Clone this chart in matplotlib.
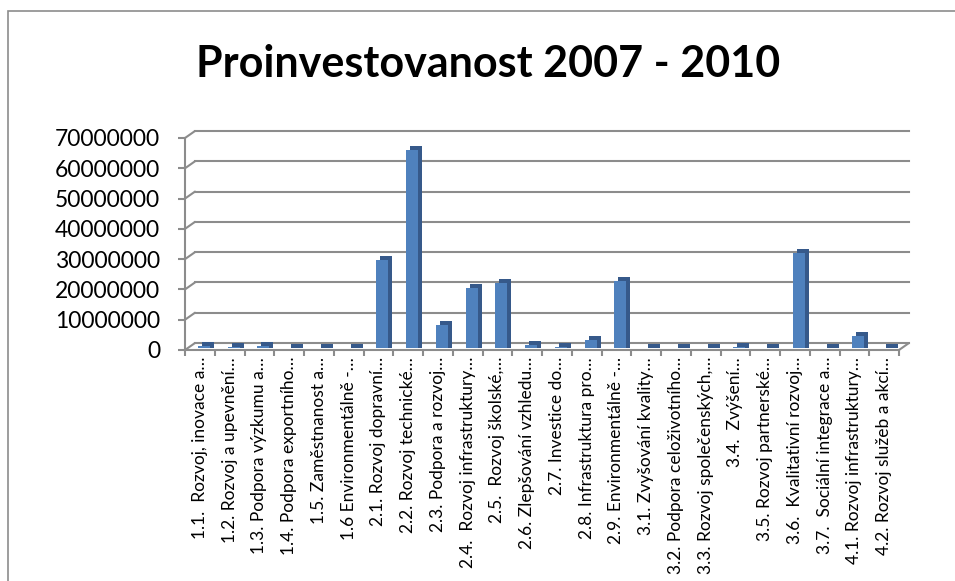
import matplotlib
matplotlib.use("Agg")
import matplotlib.pyplot as plt
import matplotlib.transforms as mtransforms
from matplotlib.patches import ConnectionPatch, Rectangle
from matplotlib.ticker import FuncFormatter
import numpy as np

# data
labels = [
    "1.1.  Rozvoj, inovace a…", "1.2. Rozvoj a upevnění…", "1.3. Podpora výzkumu a…",
    "1.4. Podpora exportního…", "1.5. Zaměstnanost a…", "1.6 Environmentálně -…",
    "2.1. Rozvoj dopravní…", "2.2. Rozvoj technické…", "2.3. Podpora a rozvoj…",
    "2.4.  Rozvoj infrastruktury…", "2.5.  Rozvoj školské,…", "2.6. Zlepšování vzhledu…",
    "2.7. Investice do…", "2.8. Infrastruktura pro…", "2.9. Environmentálně -…",
    "3.1. Zvyšování kvality…", "3.2. Podpora celoživotního…", "3.3. Rozvoj společenských,…",
    "3.4.  Zvýšení…", "3.5. Rozvoj partnerské…", "3.6.  Kvalitativní rozvoj…",
    "3.7.  Sociální integrace a…", "4.1. Rozvoj infrastruktury…", "4.2. Rozvoj služeb a akcí…",
]
values = [600000, 200000, 500000, 100000, 100000, 100000,
          29100000, 65300000, 7500000, 19700000, 21600000, 1000000,
          300000, 2500000, 22100000,
          100000, 100000, 100000, 300000, 100000, 31300000, 100000,
          3900000, 100000]
yticks = [0, 10000000, 20000000, 30000000, 40000000, 50000000, 60000000, 70000000]
title = "Proinvestovanost 2007 - 2010"

W, H = 955, 581
fig = plt.figure(figsize=(W / 100, H / 100), dpi=100)
fig.patch.set_facecolor("white")
grey = "#8c8c8c"

# outer chart border
fig.add_artist(Rectangle((8 / W, -0.1), 1.2, 1.1 - 11 / H, transform=fig.transFigure,
                         fill=False, edgecolor=grey, lw=1.2))

ax = fig.add_axes([185 / W, (H - 350) / H, 714 / W, 212 / H])
n = len(values)
x = np.arange(n)
ax.set_xlim(0, n)
ax.set_ylim(0, yticks[-1])
for s in ["top", "right"]:
    ax.spines[s].set_visible(False)
for s in ["left", "bottom"]:
    ax.spines[s].set_color(grey)
    ax.spines[s].set_linewidth(1.5)

# back wall, shifted up/right to fake the 3D look
back = mtransforms.offset_copy(ax.transData, fig=fig, x=10, y=7, units="dots")
for v in yticks:
    ax.plot([0, n], [v, v], color=grey, lw=1.5, transform=back, clip_on=False, zorder=1)
    ax.add_artist(ConnectionPatch((0, v), (0, v), coordsA=ax.transData, coordsB=back,
                                  color=grey, lw=1.5, zorder=1))
ax.add_artist(ConnectionPatch((n, 0), (n, 0), coordsA=ax.transData, coordsB=back,
                              color=grey, lw=1.5, zorder=1))

# bars: dark copy behind gives the side and top faces
px = yticks[-1] / 212.0  # data units per pixel
side = mtransforms.offset_copy(ax.transData, fig=fig, x=8, y=6, units="dots")
front = mtransforms.offset_copy(ax.transData, fig=fig, x=4, y=2, units="dots")
bs = ax.bar(x + 0.5, values, width=0.4, bottom=-4 * px, color="#36598a", zorder=3)
for b in bs:
    b.set_height(b.get_height() + 4 * px)
    b.set_transform(side)
bf = ax.bar(x + 0.5, values, width=0.4, color="#4f81bd", zorder=4)
for b in bf:
    b.set_transform(front)

ax.set_yticks(yticks)
ax.yaxis.set_major_formatter(FuncFormatter(lambda v, p: "%d" % v))
ax.tick_params(axis="y", length=5, width=1.5, color=grey, pad=13, labelsize=16.5)
ax.set_xticks(x + 0.5)
ax.set_xticklabels(labels, rotation=90, fontsize=12.5)
ax.set_xticks(np.arange(n + 1), minor=True)
ax.tick_params(axis="x", which="major", length=0, pad=5)
ax.tick_params(axis="x", which="minor", length=4, width=1.5, color=grey)
for t in ax.get_xticklabels() + ax.get_yticklabels():
    t.set_family("Lato")

fig.text(488 / W, (H - 77) / H, title, ha="center", va="baseline",
         fontsize=31, fontweight="bold", family="Lato")

fig.savefig("out.png", dpi=100, facecolor="white")
